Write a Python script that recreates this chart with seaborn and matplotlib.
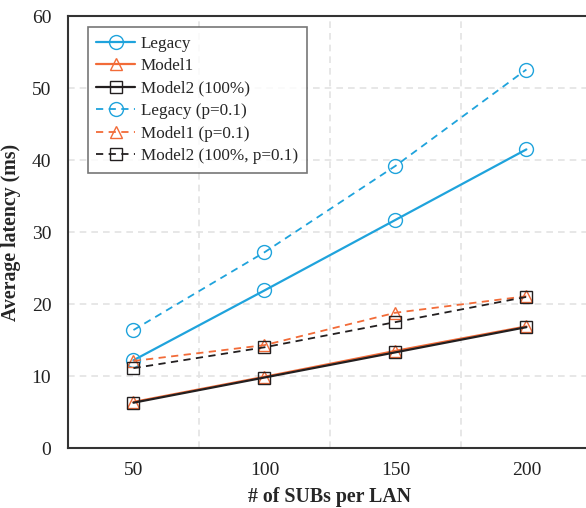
import pandas as pd
import seaborn as sns
import matplotlib.pyplot as plt
from matplotlib.ticker import MultipleLocator

# Values
subs = [50, 100, 150, 200]
legacy = [12.2, 21.9, 31.7, 41.5]
model1 = [6.4, 9.9, 13.5, 16.9]
model2 = [6.3, 9.8, 13.3, 16.8]
legacy_p = [16.4, 27.2, 39.2, 52.6]
model1_p = [12.1, 14.3, 18.8, 21.1]
model2_p = [11.1, 14.0, 17.5, 21.0]

blue, orange, black = '#1FA3DC', '#F26B38', '#231F20'

series = [
    ('Legacy', legacy, blue, '-', 'o'),
    ('Model1', model1, orange, '-', '^'),
    ('Model2 (100%)', model2, black, '-', 's'),
    ('Legacy (p=0.1)', legacy_p, blue, '--', 'o'),
    ('Model1 (p=0.1)', model1_p, orange, '--', '^'),
    ('Model2 (100%, p=0.1)', model2_p, black, '--', 's'),
]

sns.set_theme(style='white')
plt.rcParams['font.family'] = ['Liberation Serif', 'DejaVu Serif']

fig = plt.figure(figsize=(5.86, 5.08), dpi=100)
# right spine sits just past the image edge, as in the reference
ax = fig.add_axes([0.116, 0.118, 0.894, 0.850])

for name, vals, col, ls, mk in series:
    df = pd.DataFrame({'x': subs, 'y': vals})
    ms = 10 if mk == 'o' else 9
    sns.lineplot(data=df, x='x', y='y', ax=ax, color=col, linestyle=ls, marker=mk,
                 markersize=ms, markerfacecolor='none', markeredgecolor=col,
                 markeredgewidth=1.0, linewidth=1.6 if ls == '-' else 1.3,
                 label=name)

for line in ax.get_lines():
    if line.get_linestyle() == '--':
        line.set_dashes((4, 3))

ax.set_xlim(25, 225)
ax.set_ylim(0, 60)
ax.set_xticks(subs)
ax.xaxis.set_minor_locator(MultipleLocator(50, offset=25))
ax.yaxis.set_major_locator(MultipleLocator(10))
ax.grid(False)
ax.grid(True, which='minor', axis='x', color='#E3E3E3', linestyle=(0, (4, 3)), linewidth=1.2)
ax.grid(True, which='major', axis='y', color='#E3E3E3', linestyle=(0, (4, 3)), linewidth=1.2)
ax.set_axisbelow(True)
ax.tick_params(axis='x', which='major', length=0, labelsize=14, colors='#222222', pad=10)
ax.tick_params(axis='x', which='minor', direction='in', length=5, width=1, color='#333333')
ax.tick_params(axis='y', which='major', direction='in', length=5, width=1,
               color='#333333', labelsize=14, labelcolor='#222222', pad=12)

for sp in ax.spines.values():
    sp.set_color('#333333')
    sp.set_linewidth(1.5)

ax.set_xlabel('# of SUBs per LAN', fontsize=14.3, fontweight='bold', labelpad=6)
ax.set_ylabel('Average latency (ms)', fontsize=14.3, fontweight='bold', labelpad=8)

leg = ax.legend(loc='upper left', bbox_to_anchor=(0.038, 0.975), fontsize=12.3,
                frameon=True, fancybox=False, handlelength=2.25, handletextpad=0.35,
                labelspacing=0.38, borderpad=0.5, borderaxespad=0)
leg.get_frame().set_edgecolor('#555555')
leg.get_frame().set_linewidth(1.2)

fig.savefig('out.png', dpi=100)
